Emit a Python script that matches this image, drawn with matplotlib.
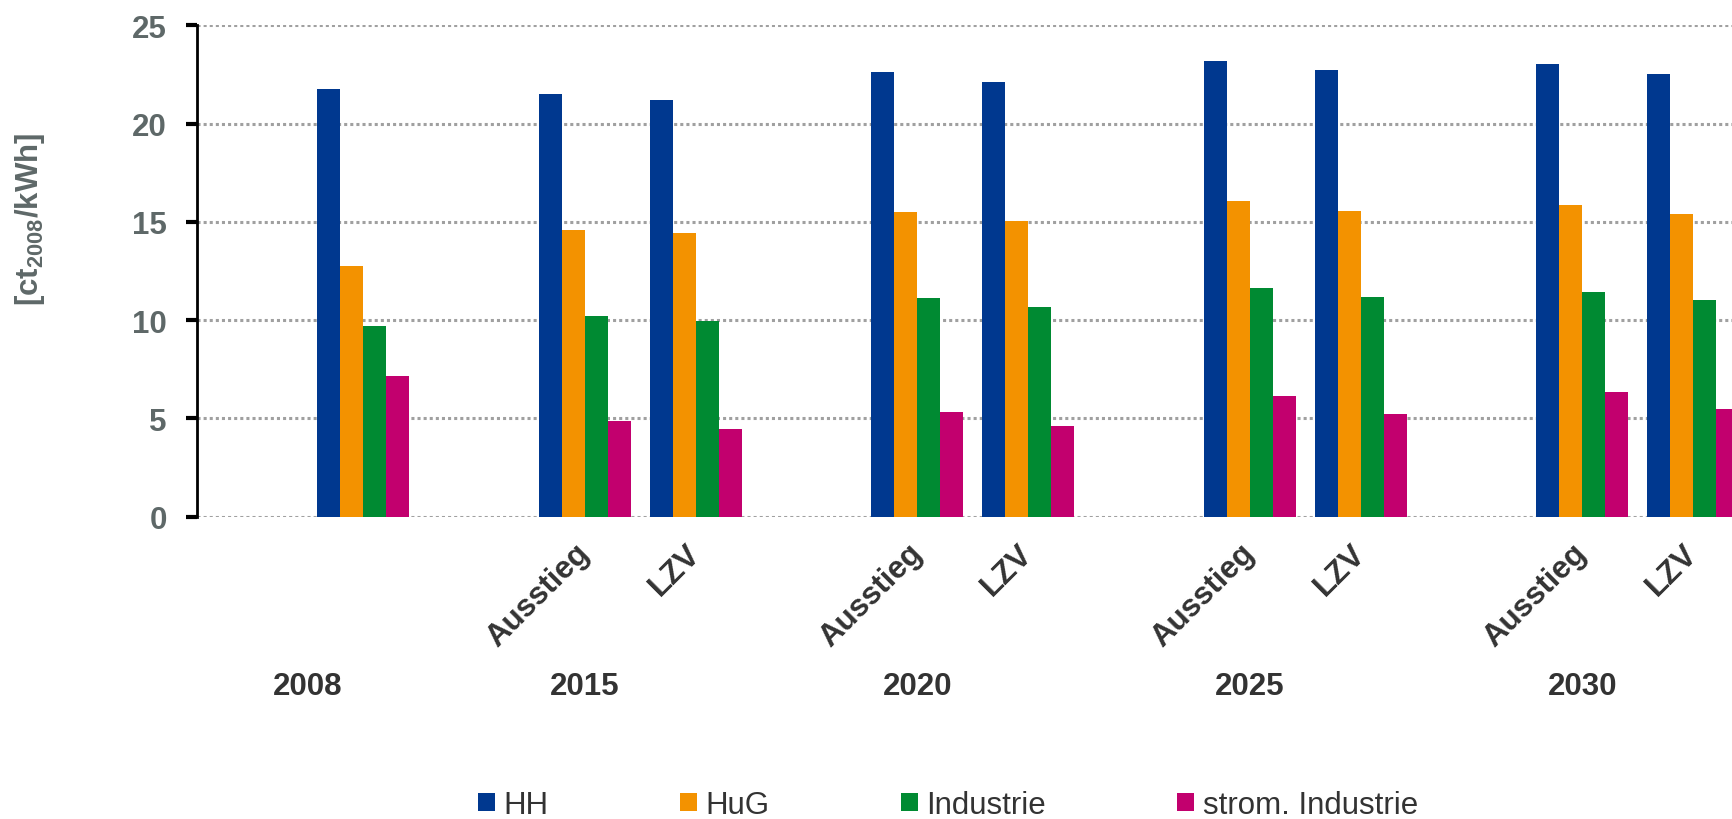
import matplotlib.pyplot as plt
import numpy as np

plt.rcParams['font.family'] = ['Liberation Sans', 'DejaVu Sans']
plt.rcParams['mathtext.fontset'] = 'custom'
plt.rcParams['mathtext.rm'] = 'Liberation Sans:bold'
plt.rcParams['mathtext.default'] = 'rm'

# Daten
szenarien = ['', 'Ausstieg', 'LZV', 'Ausstieg', 'LZV', 'Ausstieg', 'LZV', 'Ausstieg', 'LZV']
jahre = ['2008', '2015', '2020', '2025', '2030']
serien = ['HH', 'HuG', 'Industrie', 'strom. Industrie']
hh = [21.75, 21.5, 21.2, 22.63, 22.12, 23.19, 22.74, 23.06, 22.55]
hug = [12.77, 14.6, 14.45, 15.52, 15.07, 16.08, 15.56, 15.87, 15.41]
industrie = [9.70, 10.2, 9.93, 11.12, 10.67, 11.63, 11.18, 11.45, 11.03]
strom_ind = [7.13, 4.85, 4.46, 5.3, 4.63, 6.15, 5.22, 6.34, 5.48]
farben = ['#00388F', '#F39200', '#008A32', '#C2006E']

# Positionen: 2008 allein, danach je Jahr zwei Szenarien mit Lücke
x = np.array([0, 2, 3, 5, 6, 8, 9, 11, 12], dtype=float)
x_jahre = [-0.5, 2, 5, 8, 11]
w = 0.207

fig = plt.figure(figsize=(17.33, 8.2), dpi=100)
ax = fig.add_axes([0.1137, 0.3689, 1 - 0.1137, 0.5988])

for i, (werte, farbe, name) in enumerate(zip([hh, hug, industrie, strom_ind], farben, serien)):
    ax.bar(x + (i - 1.5) * w, werte, w, color=farbe, label=name, zorder=3)

ax.set_xlim(-1.5, 12.36)
ax.set_ylim(0, 25)
ax.set_yticks(range(0, 26, 5))
ax.yaxis.grid(True, color='#a0a0a0', linestyle=(0, (1, 1)), linewidth=2.2, zorder=0)
for s in ['top', 'right', 'bottom']:
    ax.spines[s].set_visible(False)
ax.spines['left'].set_linewidth(2)
ax.spines['left'].set_zorder(4)
ax.tick_params(axis='y', length=7.7, width=3, direction='out', pad=14,
               labelsize=22.5, labelcolor='#5E6868')
for lbl in ax.get_yticklabels():
    lbl.set_fontweight('bold')

ax.set_xticks(x)
ax.set_xticklabels(szenarien, rotation=45, ha='right', va='center',
                   rotation_mode='anchor', fontsize=22.5, color='#333333',
                   fontweight='bold')
ax.tick_params(axis='x', length=0, pad=23)

for xj, j in zip(x_jahre, jahre):
    ax.annotate(j, xy=(xj, 0), xycoords=('data', 'axes fraction'),
                xytext=(0, -121.7), textcoords='offset points',
                ha='center', va='center', fontsize=22.5, color='#333333',
                fontweight='bold')

fig.text(30 / 1733, 1 - 219 / 820, '[ct$_{2008}$/kWh]', rotation=90,
         ha='center', va='center', fontsize=22.5, fontweight='bold', color='#5E6868')

fig.legend(loc='center', bbox_to_anchor=(0.547, 0.017), ncol=4, frameon=False,
           fontsize=22.5, handlelength=0.555, handleheight=0.476,
           handletextpad=0.26, columnspacing=4.2, labelcolor='#333333',
           borderpad=0)

fig.savefig('out.png', dpi=100)
plt.close(fig)
